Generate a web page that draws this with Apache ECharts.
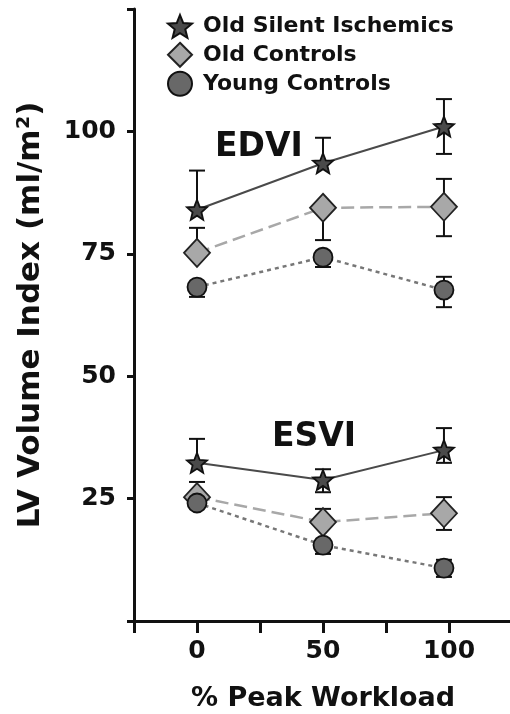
<!DOCTYPE html>
<html>
<head>
<meta charset="utf-8">
<script src="https://cdn.jsdelivr.net/npm/echarts@6/dist/echarts.min.js"></script>
<style>
  html, body { margin: 0; padding: 0; background: #fff; }
  #chart { width: 510px; height: 714px; }
</style>
</head>
<body>
<div id="chart"></div>
<script>
// % peak workload
var workload = [0, 50, 98];

// EDVI (ml/m2)
var ischemicEdv = [84, 93.5, 101];
var ischemicEdvHi = [92, 98.7, 106.6];
var ischemicEdvLo = [null, null, 95.4];
var oldCtrlEdv = [75.2, 84.4, 84.6];
var oldCtrlEdvHi = [80.3, null, 90.3];
var oldCtrlEdvLo = [null, 77.8, 78.6];
var youngEdv = [68.2, 74.3, 67.6];
var youngEdvHi = [null, null, 70.3];
var youngEdvLo = [66.2, 72.3, 64.1];

// ESVI (ml/m2)
var ischemicEsv = [32.3, 28.8, 34.9];
var ischemicEsvHi = [37.2, 31.0, 39.4];
var ischemicEsvLo = [null, 26.3, 32.3];
var oldCtrlEsv = [25.3, 20.2, 22.0];
var oldCtrlEsvHi = [28.4, 22.9, 25.3];
var oldCtrlEsvLo = [null, null, 18.6];
var youngEsv = [24.1, 15.5, 10.8];
var youngEsvHi = [null, null, 12.5];
var youngEsvLo = [null, 13.7, 9.0];

var yLabels = [25, 50, 75, 100];
var xLabels = [0, 50, 100];

var FONT = '"DejaVu Sans", Arial, sans-serif';
var starPath = 'path://M50,0 L62.9,32.2 L97.6,34.5 L70.9,56.8 L79.4,90.5 L50,72 L20.6,90.5 L29.1,56.8 L2.4,34.5 L37.1,32.2 Z';

var groups = {
    'Old Silent Ischemics': {
        symbol: starPath, size: 20, fill: '#4a4a4a', border: '#111', line: {color: '#4a4a4a', width: 2, type: 'solid'}
    },
    'Old Controls': {
        symbol: 'diamond', size: [26, 28], fill: '#a8a8a8', border: '#222', line: {color: '#a8a8a8', width: 2.5, type: [13, 6]}
    },
    'Young Controls': {
        symbol: 'circle', size: 19, fill: '#686868', border: '#111', line: {color: '#777', width: 2.5, type: [4, 4]}
    }
};

function pairs(vals) {
    return workload.map(function (x, i) { return [x, vals[i]]; });
}

function errData(vals, hi, lo) {
    return workload.map(function (x, i) {
        return [x, vals[i], lo[i] == null ? vals[i] : lo[i], hi[i] == null ? vals[i] : hi[i],
            lo[i] == null ? 0 : 1, hi[i] == null ? 0 : 1];
    });
}

function renderErr(params, api) {
    var x = api.value(0);
    var pMean = api.coord([x, api.value(1)]);
    var pLo = api.coord([x, api.value(2)]);
    var pHi = api.coord([x, api.value(3)]);
    var hw = 8;
    var st = {stroke: '#111', lineWidth: 2};
    var children = [{type: 'line', shape: {x1: pMean[0], y1: pLo[1], x2: pMean[0], y2: pHi[1]}, style: st}];
    if (api.value(4)) children.push({type: 'line', shape: {x1: pMean[0] - hw, y1: pLo[1], x2: pMean[0] + hw, y2: pLo[1]}, style: st});
    if (api.value(5)) children.push({type: 'line', shape: {x1: pMean[0] - hw, y1: pHi[1], x2: pMean[0] + hw, y2: pHi[1]}, style: st});
    return {type: 'group', children: children};
}

var seriesList = [];
function addGroup(name, vals, hi, lo) {
    var g = groups[name];
    seriesList.push({
        name: name + ' err',
        type: 'custom',
        renderItem: renderErr,
        data: errData(vals, hi, lo),
        encode: {x: 0, y: [2, 3]},
        z: 1,
        silent: true
    });
    seriesList.push({
        name: name,
        type: 'line',
        data: pairs(vals),
        symbol: g.symbol,
        symbolSize: g.size,
        itemStyle: {color: g.fill, borderColor: g.border, borderWidth: 1.8},
        lineStyle: g.line,
        z: 3,
        animation: false
    });
}

addGroup('Old Silent Ischemics', ischemicEdv, ischemicEdvHi, ischemicEdvLo);
addGroup('Old Controls', oldCtrlEdv, oldCtrlEdvHi, oldCtrlEdvLo);
addGroup('Young Controls', youngEdv, youngEdvHi, youngEdvLo);
addGroup('Old Silent Ischemics', ischemicEsv, ischemicEsvHi, ischemicEsvLo);
addGroup('Old Controls', oldCtrlEsv, oldCtrlEsvHi, oldCtrlEsvLo);
addGroup('Young Controls', youngEsv, youngEsvHi, youngEsvLo);

var chartDom = document.getElementById('chart');
var myChart = echarts.init(chartDom);
var option;

option = {
    animation: false,
    backgroundColor: '#fff',
    grid: {left: 134, top: 9, width: 378, height: 612, outerBoundsMode: 'none', containLabel: false},
    legend: {
        orient: 'vertical',
        left: 162,
        top: 9,
        itemWidth: 24,
        itemHeight: 24,
        itemGap: 3,
        textStyle: {fontFamily: FONT, fontWeight: 'bold', fontSize: 22, color: '#111', padding: [0, 0, 0, 6]},
        data: Object.keys(groups).map(function (n) { return {name: n, icon: groups[n].symbol}; })
    },
    xAxis: {
        type: 'value',
        min: -25,
        max: 125,
        interval: 25,
        name: '% Peak Workload',
        nameLocation: 'middle',
        nameGap: 64,
        nameTextStyle: {fontFamily: FONT, fontWeight: 'bold', fontSize: 27, color: '#111'},
        axisLine: {onZero: false, lineStyle: {color: '#111', width: 3}},
        axisTick: {length: 12, lineStyle: {color: '#111', width: 3}},
        splitLine: {show: false},
        axisLabel: {
            margin: 18,
            fontFamily: FONT, fontWeight: 'bold', fontSize: 25, color: '#111',
            formatter: function (v) { return xLabels.indexOf(v) >= 0 ? String(v) : ''; }
        }
    },
    yAxis: {
        type: 'value',
        min: 0,
        max: 125,
        interval: 25,
        name: 'LV Volume Index (ml/m²)',
        nameLocation: 'middle',
        nameGap: 88,
        nameTextStyle: {fontFamily: FONT, fontWeight: 'bold', fontSize: 31, color: '#111'},
        axisLine: {show: true, onZero: false, lineStyle: {color: '#111', width: 3}},
        axisTick: {show: true, length: 7, lineStyle: {color: '#111', width: 3}},
        splitLine: {show: false},
        axisLabel: {
            margin: 18,
            fontFamily: FONT, fontWeight: 'bold', fontSize: 25, color: '#111',
            formatter: function (v) { return yLabels.indexOf(v) >= 0 ? String(v) : ''; }
        }
    },
    graphic: [
        {type: 'text', left: 215, top: 131, style: {text: 'EDVI', font: 'bold 33px ' + FONT, fill: '#111'}},
        {type: 'text', left: 272, top: 421, style: {text: 'ESVI', font: 'bold 33px ' + FONT, fill: '#111'}}
    ],
    series: seriesList
};

option && myChart.setOption(option);
</script>
</body>
</html>
